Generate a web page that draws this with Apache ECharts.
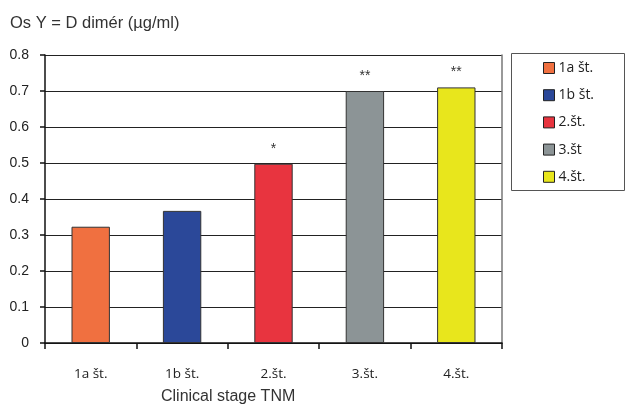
<!DOCTYPE html>
<html><head><meta charset="utf-8">
<script src="https://cdn.jsdelivr.net/npm/echarts@6/dist/echarts.min.js"></script>
<style>html,body{margin:0;padding:0;background:#fff}#c{width:626px;height:408px}</style>
</head><body><div id="c"></div>
<script>
var categories = ['1a št.', '1b št.', '2.št.', '3.št.', '4.št.'];
var legendNames = ['1a št.', '1b št.', '2.št.', '3.št', '4.št.'];
var values = [0.323, 0.367, 0.498, 0.70, 0.71];
var marks = ['', '', '*', '**', '**'];
var colors = ['#F07040', '#2B4899', '#E8343F', '#8C9496', '#E8E61C'];
var yTicks = [0, 0.1, 0.2, 0.3, 0.4, 0.5, 0.6, 0.7, 0.8];

var FONT = 'Liberation Sans';
var series = legendNames.map(function (name, i) {
  var data = categories.map(function (c, j) { return j === i ? values[i] : '-'; });
  return {
    name: name, type: 'bar', stack: 'all', barWidth: '42%',
    data: data,
    itemStyle: { color: colors[i], borderColor: '#333', borderWidth: 1 },
    label: {
      show: marks[i] !== '', position: 'top', distance: 8,
      formatter: function () { return marks[i]; },
      color: '#333', fontSize: 14, fontFamily: FONT
    }
  };
});

var chart = echarts.init(document.getElementById('c'), null, { renderer: 'canvas' });
chart.setOption({
  animation: false,
  backgroundColor: '#fff',
  title: {
    text: 'Os Y = D dimér (µg/ml)', left: 5, top: 10,
    textStyle: { fontFamily: FONT, fontSize: 16.5, fontWeight: 'normal', color: '#333' }
  },
  grid: { left: 45, right: 124, top: 55, bottom: 65 },
  legend: {
    orient: 'vertical', left: 543, top: 61, padding: 0,
    itemWidth: 11, itemHeight: 11, itemGap: 13.2,
    icon: 'rect',
    itemStyle: { borderColor: '#222', borderWidth: 1 },
    textStyle: { fontFamily: 'Open Sans', fontSize: 14, lineHeight: 14, color: '#222', padding: [0, 0, 0, -1] },
    data: legendNames
  },
  graphic: [{
    type: 'rect', shape: { x: 511.5, y: 53.5, width: 113, height: 137 },
    style: { fill: 'none', stroke: '#555', lineWidth: 1 }, silent: true
  }, {
    type: 'text', left: 161, top: 389,
    style: { text: 'Clinical stage TNM', font: '16px "Liberation Sans"', fill: '#333' }, silent: true
  }],
  xAxis: {
    type: 'category', data: categories,
    axisLine: { lineStyle: { color: '#111', width: 1.5 } },
    axisTick: { show: true, length: 6, lineStyle: { color: '#111', width: 1.5 } },
    axisLabel: { margin: 24, fontFamily: 'Open Sans', fontSize: 13.5, color: '#222' }
  },
  yAxis: [{
    type: 'value', min: 0, max: 0.8, interval: 0.1,
    axisLine: { show: true, lineStyle: { color: '#111', width: 1.5 } },
    axisTick: { show: true, length: 5, lineStyle: { color: '#111', width: 1.5 } },
    axisLabel: {
      margin: 16, fontFamily: FONT, fontSize: 14, color: '#222',
      formatter: function (v) {
        var t = yTicks.filter(function (k) { return Math.abs(k - v) < 1e-6; })[0];
        return t === 0 ? '0' : t.toFixed(1);
      }
    },
    splitLine: { show: true, lineStyle: { color: '#222', width: 1 } }
  }, {
    type: 'value', min: 0, max: 0.8, interval: 0.1, position: 'right',
    axisLine: { show: true, lineStyle: { color: '#777', width: 1.5 } },
    axisTick: { show: false }, axisLabel: { show: false }, splitLine: { show: false }
  }],
  series: series
});
</script></body></html>
